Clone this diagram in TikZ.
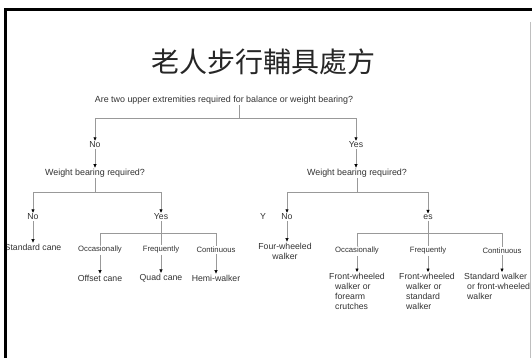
\documentclass[tikz,border=0pt]{standalone}
\usepackage{fontspec}
\setmainfont{Liberation Sans}
\newfontfamily\cjkfont{Noto Sans CJK TC}
\usetikzlibrary{arrows.meta}

\tikzset{
	ln/.style={draw=black!40,line width=.6pt},
	arr/.style={ln,-{Triangle[color=black,length=3.5pt,width=3pt]}},
	txt/.style={inner sep=1pt,text=black!80,font=\fontsize{8.7}{10}\selectfont},
	ask/.style={txt,font=\fontsize{8.9}{10}\selectfont},
	freq/.style={txt,font=\fontsize{7.7}{9}\selectfont},
	answer/.style={txt,align=left,anchor=north west},
}

\begin{document}
\begin{tikzpicture}[x=1pt,y=-1pt]
		\useasboundingbox (0,0) rectangle (532,358);
		\fill[white] (0,0) rectangle (532,358);
		\node[font=\cjkfont\fontsize{28}{30}\selectfont,text=black!85] (title) at (263,62) {老人步行輔具處方};
		\node[ask] (q) at (224,100) {Are two upper extremities required for balance or weight bearing?};
		% first split
		\node[txt] (no1) at (95,145) {No};
		\node[txt] (yes1) at (356,145) {Yes};
		\coordinate (qj) at (239,118);
		\draw[ln] (q.south -| qj) -- (qj);
		\draw[arr] (qj) -| (no1);
		\draw[arr] (qj) -| (yes1);
		% left branch
		\node[ask] (wb1) at (95,173) {Weight bearing required?};
		\draw[arr] (no1) -- (wb1);
		\node[txt] (no2) at (33,217) {No};
		\node[txt] (yes2) at (161,217) {Yes};
		\coordinate (j1) at (95,192);
		\draw[ln] (wb1) -- (j1);
		\draw[arr] (j1) -| (no2);
		\draw[arr] (j1) -| (yes2);
		\node[txt] (std) at (33,247) {Standard cane};
		\draw[arr] (no2) -- (std);
		\node[freq] (occ1) at (100,250) {Occasionally};
		\node[freq] (fre1) at (161,250) {Frequently};
		\node[freq] (con1) at (216,250) {Continuous};
		\coordinate (j2) at (161,233);
		\draw[ln] (yes2) -- (j2);
		\foreach \f in {occ1,con1}
		{
			\draw[ln] (j2) -| (\f);
		}
		\draw[ln] (j2) -- (fre1);
		\node[txt] (off) at (100,278) {Offset cane};
		\node[txt] (quad) at (161,278) {Quad cane};
		\node[txt] (hemi) at (216,278) {Hemi-walker};
		\foreach \f/\a in {occ1/off,fre1/quad,con1/hemi}
		{
			\draw[arr] (\f) -- (\f |- \a.north);
		}
		% right branch
		\node[ask] (wb2) at (357,173) {Weight bearing required?};
		\draw[arr] (yes1) -- (yes1 |- wb2.north);
		\node[txt] (y3) at (263,217) {Y};
		\node[txt] (no3) at (287,217) {No};
		\node[txt] (es3) at (428,217) {es};
		\coordinate (j3) at (357,192);
		\draw[ln] (wb2) -- (j3);
		\draw[arr] (j3) -| (no3);
		\draw[arr] (j3) -| (es3);
		\node[txt,align=center] (four) at (285,251) {Four-wheeled\\walker};
		\draw[arr] (no3) -- (no3 |- four.north);
		\node[freq] (occ2) at (357,251) {Occasionally};
		\node[freq] (fre2) at (428,251) {Frequently};
		\node[freq] (con2) at (502,251) {Continuous};
		\coordinate (j4) at (428,233);
		\draw[ln] (es3) -- (j4);
		\foreach \f in {occ2,con2}
		{
			\draw[ln] (j4) -| (\f);
		}
		\draw[ln] (j4) -- (fre2);
		\node[answer] (fw1) at (328,272) {Front-wheeled\\\hspace*{6pt}walker or\\\hspace*{6pt}forearm\\\hspace*{6pt}crutches};
		\node[answer] (fw2) at (398,272) {Front-wheeled\\\hspace*{7pt}walker or\\\hspace*{7pt}standard\\\hspace*{7pt}walker};
		\node[answer] (sw) at (463,272) {Standard walker\\\hspace*{3pt}or front-wheeled\\\hspace*{3pt}walker};
		\foreach \f/\a in {occ2/fw1,fre2/fw2,con2/sw}
		{
			\draw[arr] (\f) -- (\f |- \a.north);
		}
		% slide frame
		\draw[black!25,line width=.8pt] (530.5,22)--(530.5,358);
		\draw[line width=3pt] (5.5,358)--(5.5,9.5)--(532,9.5);
	\end{tikzpicture}
\end{document}
